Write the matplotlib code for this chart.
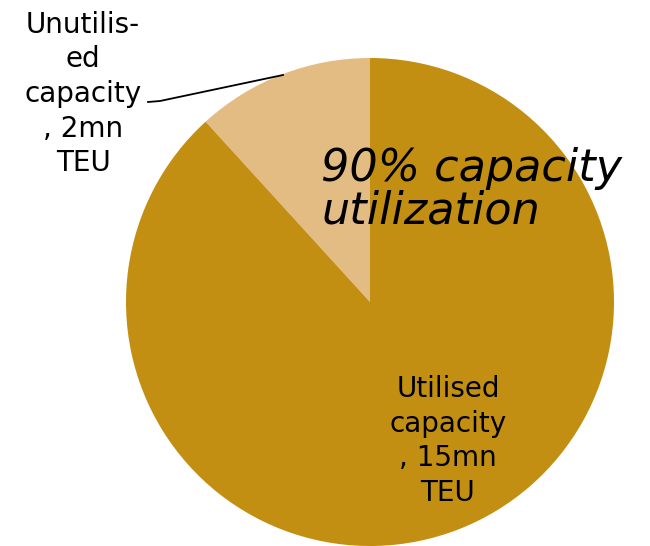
import matplotlib.pyplot as plt

# data
labels = ['Unutilis-\ned\ncapacity\n, 2mn\nTEU', 'Utilised\ncapacity\n, 15mn\nTEU']
values = [2, 15]
colors = ['#E3BC84', '#C28F12']

fig = plt.figure(figsize=(6.5, 5.46), dpi=100)
# pie centre ~ (370, 302) px, radius ~ 244 px
ax = fig.add_axes([(370 - 244) / 650, 0, 488 / 650, 488 / 546])
ax.pie(values, colors=colors, startangle=90, counterclock=True,
       wedgeprops=dict(linewidth=0))
ax.set_xlim(-1, 1)
ax.set_ylim(-1, 1)
ax.set_aspect('equal')

# labels
fig.text(448 / 650, 1 - 441 / 546, labels[1], ha='center', va='center',
         fontsize=20, linespacing=1.3, color='black')
fig.text(83 / 650, 1 - 94 / 546, labels[0], ha='center', va='center',
         fontsize=20, linespacing=1.3, color='black')

# leader line for small slice
fig.add_artist(plt.Line2D([148 / 650, 160 / 650, 283 / 650],
                          [1 - 102 / 546, 1 - 101 / 546, 1 - 75 / 546],
                          color='black', linewidth=1.3))

fig.text(321 / 650, 1 - 190 / 546, '90% capacity\nutilization', ha='left',
         va='center', fontsize=32, style='italic', linespacing=1.0)

fig.savefig('out.png', dpi=100)
